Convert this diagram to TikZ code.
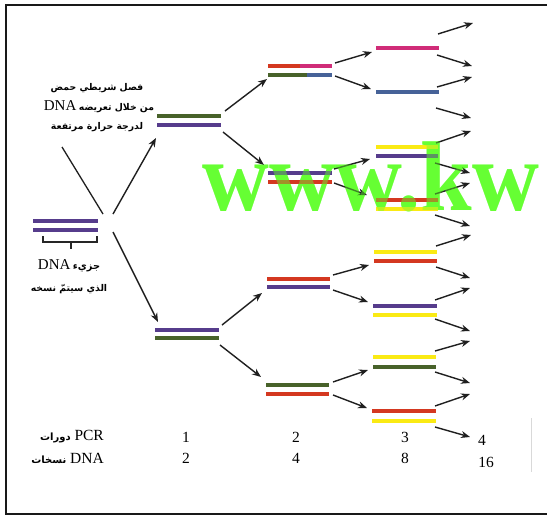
\documentclass[tikz,border=0pt]{standalone}
\usepackage{fontspec}
\setmainfont{Liberation Serif}
\newfontfamily\arabicfont[Script=Arabic]{DejaVu Sans}
\TeXXeTstate=1
\usetikzlibrary{arrows.meta}
\definecolor{dpurple}{RGB}{86,60,140}
\definecolor{dgreen}{RGB}{72,98,42}
\definecolor{dred}{RGB}{212,56,32}
\definecolor{dmag}{RGB}{208,44,120}
\definecolor{dblue}{RGB}{70,98,152}
\definecolor{dyellow}{RGB}{250,234,20}
\definecolor{wmgreen}{RGB}{102,255,51}
\newcommand\strandbar[5]{\node[bar,fill=#2,minimum width={#4-#3}] (#1) at ({(#3+#4)/2},#5) {};}
\newcommand\arrlink[3]{\coordinate (#1s) at (#2); \coordinate (#1e) at (#3); \draw[arr] (#1s) -- (#1e);}
\begin{document}
\begin{tikzpicture}[x=1pt,y=-1pt,
  bar/.style={inner sep=0pt,outer sep=0pt,minimum height=4pt,draw=none},
  arr/.style={draw=black!88,line width=1.4pt,-{Stealth[length=9pt,width=7pt]}},
  plain/.style={draw=black!88,line width=1.3pt},
  arfont/.style={font=\arabicfont\bfseries\fontsize{9.3}{12}\selectfont},
  arlab/.style={inner sep=0pt,arfont},
  numlab/.style={inner sep=0pt,font=\fontsize{15.5}{17}\selectfont},
  rowlab/.style={inner sep=0pt,anchor=east,font=\fontsize{15.5}{17}\selectfont}]
\useasboundingbox (0,0) rectangle (547,515);
\fill[white] (0,0) rectangle (547,515);
% frame
\draw[black!90,line width=2pt] (549,4.5) -- (6,4.5) -- (6,514) -- (549,514);
\draw[gray!30,line width=0.6pt] (531,418) -- (531,472);

% watermark (multiplied under strands)
\begin{scope}[blend mode=multiply]
\node[inner sep=0pt,anchor=base west,text=wmgreen,xscale=0.935,font=\fontsize{99}{99}\selectfont\bfseries] (wm) at (202,210) {www.kw};
\end{scope}

% original molecule
\strandbar{m1}{dpurple}{33}{98}{221}
\strandbar{m2}{dpurple}{33}{98}{230}
\coordinate (brL) at (43,236); \coordinate (brR) at (97,236);
\coordinate (brM) at (71,242); \coordinate (brB) at (71,249);
\draw[black!85,line width=1.1pt] (brL) -- (43,242) -- (97,242) -- (brR);
\draw[black!85,line width=1.1pt] (brM) -- (brB);
\node[inner sep=0pt] (mt1) at (69,266) {{\fontsize{15}{16}\selectfont DNA} {\arabicfont\bfseries\fontsize{9.8}{12}\selectfont\beginR جزيء\endR}};
\node[arlab] (mt2) at (69,289) {\beginR الذي سيتمّ نسخه\endR};

% top label
\node[arlab] (t1) at (97,88) {\beginR فصل شريطي حمض\endR};
\node[inner sep=0pt] (t2) at (99,107) {{\fontsize{15}{16}\selectfont DNA} {\arabicfont\bfseries\fontsize{9.3}{12}\selectfont\beginR من خلال تعريضه\endR}};
\node[arlab] (t3) at (97,127) {\beginR لدرجة حرارة مرتفعة\endR};
\coordinate (ls) at (62,147); \coordinate (le) at (103,214);
\draw[plain] (ls) -- (le);

% cycle 1
\strandbar{c1a}{dgreen}{157}{221}{116}
\strandbar{c1b}{dpurple}{157}{221}{125}
\strandbar{c2a}{dpurple}{155}{219}{330}
\strandbar{c2b}{dgreen}{155}{219}{338}
\arrlink{a01}{113,214}{156,138}
\arrlink{a02}{113,232}{158,322}

% cycle 2
\strandbar{p1a}{dred}{268}{300}{66}
\strandbar{p1b}{dmag}{300}{332}{66}
\strandbar{p1c}{dgreen}{268}{307}{75}
\strandbar{p1d}{dblue}{307}{332}{75}
\strandbar{p2a}{dpurple}{268}{332}{173}
\strandbar{p2b}{dred}{268}{332}{182}
\strandbar{p3a}{dred}{267}{330}{279}
\strandbar{p3b}{dpurple}{267}{330}{287}
\strandbar{p4a}{dgreen}{266}{329}{385}
\strandbar{p4b}{dred}{266}{329}{394}
\arrlink{a11}{225,111}{267,79}
\arrlink{a12}{223,132}{264,165}
\arrlink{a13}{222,325}{262,293}
\arrlink{a14}{220,345}{261,377}

% cycle 3
\strandbar{g1}{dmag}{376}{439}{48}
\strandbar{g2}{dblue}{376}{439}{92}
\strandbar{g3}{dyellow}{376}{438}{147}
\strandbar{g4}{dpurple}{376}{438}{156}
\strandbar{g5}{dred}{376}{438}{200}
\strandbar{g6}{dyellow}{376}{438}{209}
\strandbar{g7}{dyellow}{374}{437}{252}
\strandbar{g8}{dred}{374}{437}{261}
\strandbar{g9}{dpurple}{373}{437}{306}
\strandbar{g10}{dyellow}{373}{437}{315}
\strandbar{g11}{dyellow}{373}{436}{357}
\strandbar{g12}{dgreen}{373}{436}{367}
\strandbar{g13}{dred}{372}{436}{411}
\strandbar{g14}{dyellow}{372}{436}{421}
\arrlink{a21}{335,63}{372,52}
\arrlink{a22}{335,76}{371,89}
\arrlink{a23}{334,169}{370,159}
\arrlink{a24}{334,183}{367,195}
\arrlink{a25}{333,275}{369,265}
\arrlink{a26}{333,290}{368,302}
\arrlink{a27}{333,382}{368,370}
\arrlink{a28}{333,395}{367,408}

% cycle 4 arrows
\arrlink{b01}{438,34}{473,23}
\arrlink{b02}{437,55}{472,66}
\arrlink{b03}{437,87}{472,77}
\arrlink{b04}{436,108}{471,118}
\arrlink{b05}{436,143}{471,131}
\arrlink{b06}{435,163}{470,173}
\arrlink{b07}{435,194}{470,183}
\arrlink{b08}{435,215}{470,226}
\arrlink{b09}{436,246}{471,235}
\arrlink{b10}{436,267}{470,278}
\arrlink{b11}{435,300}{470,288}
\arrlink{b12}{435,319}{470,331}
\arrlink{b13}{435,351}{470,341}
\arrlink{b14}{435,372}{470,383}
\arrlink{b15}{435,406}{470,394}
\arrlink{b16}{435,427}{470,437}

% bottom rows
\node[rowlab] (r1) at (104,437) {{\arabicfont\bfseries\fontsize{10}{12}\selectfont\beginR دورات\endR} PCR};
\node[rowlab] (r2) at (104,458) {{\arabicfont\bfseries\fontsize{10}{12}\selectfont\beginR نسخات\endR} DNA};
\node[numlab] (n11) at (186,437) {1};
\node[numlab] (n12) at (186,458) {2};
\node[numlab] (n21) at (296,437) {2};
\node[numlab] (n22) at (296,458) {4};
\node[numlab] (n31) at (405,437) {3};
\node[numlab] (n32) at (405,458) {8};
\node[numlab] (n41) at (482,440) {4};
\node[numlab] (n42) at (486,462) {16};

% watermark overlay (light, on top)
\node[inner sep=0pt,anchor=base west,text=wmgreen,opacity=0.45,xscale=0.935,font=\fontsize{99}{99}\selectfont\bfseries] (wm2) at (202,210) {www.kw};
\end{tikzpicture}
\end{document}
